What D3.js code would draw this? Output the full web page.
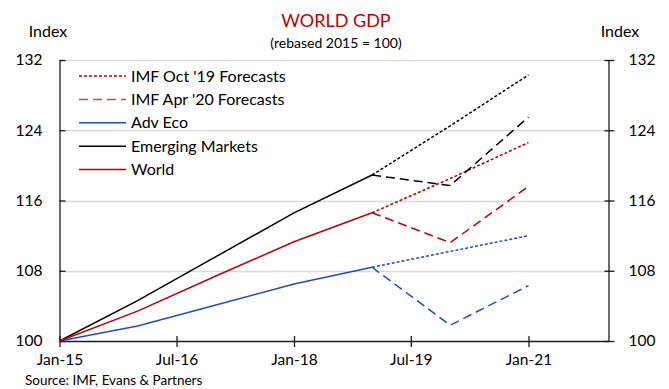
<!DOCTYPE html>
<html>
<head>
<meta charset="utf-8">
<script src="https://cdn.jsdelivr.net/npm/d3@7"></script>
<style>
  html, body { margin: 0; padding: 0; background: #fff; }
  svg { display: block; font-family: Lato, "Open Sans", sans-serif; }
</style>
</head>
<body>
<svg id="chart" width="669" height="389"></svg>
<script>
// Annual observations, rebased so that 2015 = 100
const years = [2015, 2016, 2017, 2018, 2019];
const advEco = [100, 101.7, 104.1, 106.5, 108.4];
const emerging = [100, 104.6, 109.6, 114.6, 118.9];
const world = [100, 103.4, 107.4, 111.3, 114.6];

// Forecast paths, starting from the 2019 level
const forecastYears = [2019, 2020, 2021];
const advEcoOct19 = [108.4, 110.2, 112.0];
const emergingOct19 = [118.9, 124.5, 130.3];
const worldOct19 = [114.6, 118.5, 122.6];
const advEcoApr20 = [108.4, 101.8, 106.3];
const emergingApr20 = [118.9, 117.7, 125.5];
const worldApr20 = [114.6, 111.2, 117.6];

const yTicks = [100, 108, 116, 124, 132];
const xTickDates = ["2015-01", "2016-07", "2018-01", "2019-07", "2021-01"];
const xTickLabels = ["Jan-15", "Jul-16", "Jan-18", "Jul-19", "Jan-21"];

const legendLabels = ["IMF Oct '19 Forecasts", "IMF Apr '20 Forecasts", "Adv Eco", "Emerging Markets", "World"];

const colors = { black: "#000000", red: "#C00000", blue: "#1F4EB4", legendApr: "#C0504D" };
const dotted = "3,2";
const dashed = "9,5";

const svg = d3.select("#chart");
const plotLeft = 59.5, plotRight = 608.5, plotTop = 60, plotBottom = 341;

const parse = d3.timeParse("%Y-%m");
const x = d3.scaleTime()
  .domain([new Date(2015, 0, 1), new Date(2022, 0, 10)])
  .range([plotLeft, plotRight]);
const y = d3.scaleLinear().domain([100, 132]).range([plotBottom, plotTop]);

// Gridlines
svg.append("g").selectAll("line")
  .data(yTicks.filter(v => v > 100))
  .join("line")
  .attr("x1", plotLeft).attr("x2", plotRight)
  .attr("y1", d => Math.round(y(d)) + 0.5).attr("y2", d => Math.round(y(d)) + 0.5)
  .attr("stroke", "#d9d9d9").attr("stroke-width", 1.5);

// Axes
const axisColor = "#1a1a1a";
function styleAxis(g) {
  g.select(".domain").attr("stroke", axisColor).attr("stroke-width", 1.3);
  g.selectAll(".tick line").attr("stroke", axisColor).attr("stroke-width", 1.3);
  g.selectAll(".tick text").attr("fill", "#000").attr("font-size", "15.5px")
    .attr("font-family", "Lato, 'Open Sans', sans-serif");
}

const yLeft = svg.append("g").attr("transform", `translate(${plotLeft},0)`)
  .call(d3.axisLeft(y).tickValues(yTicks).tickSizeInner(6).tickSizeOuter(0).tickPadding(11));
yLeft.selectAll(".tick line").attr("x2", 6);
styleAxis(yLeft);

const yRight = svg.append("g").attr("transform", `translate(${plotRight},0)`)
  .call(d3.axisRight(y).tickValues(yTicks).tickSizeInner(6).tickSizeOuter(0).tickPadding(14));
yRight.selectAll(".tick line").attr("x2", 6).attr("x1", -4);
styleAxis(yRight);

const xAxis = svg.append("g").attr("transform", `translate(0,${plotBottom})`)
  .call(d3.axisBottom(x)
    .tickValues(xTickDates.map(parse))
    .tickFormat((d, i) => xTickLabels[i])
    .tickSizeInner(6).tickSizeOuter(0).tickPadding(7));
xAxis.selectAll(".tick line").attr("y1", -5);
styleAxis(xAxis);

// Series lines
const line = d3.line().x(d => x(new Date(d[0], 0, 1))).y(d => y(d[1]));
const zip = (a, b) => a.map((v, i) => [v, b[i]]);

const series = [
  { yrs: forecastYears, vals: advEcoOct19, color: colors.blue, dash: dotted },
  { yrs: forecastYears, vals: emergingOct19, color: colors.black, dash: dotted },
  { yrs: forecastYears, vals: worldOct19, color: colors.red, dash: dotted },
  { yrs: forecastYears, vals: advEcoApr20, color: colors.blue, dash: dashed },
  { yrs: forecastYears, vals: emergingApr20, color: colors.black, dash: dashed },
  { yrs: forecastYears, vals: worldApr20, color: colors.red, dash: dashed },
  { yrs: years, vals: advEco, color: colors.blue, dash: null },
  { yrs: years, vals: emerging, color: colors.black, dash: null },
  { yrs: years, vals: world, color: colors.red, dash: null }
];

svg.append("g").selectAll("path")
  .data(series)
  .join("path")
  .attr("d", d => line(zip(d.yrs, d.vals)))
  .attr("fill", "none")
  .attr("stroke", d => d.color)
  .attr("stroke-width", 1.5)
  .attr("stroke-dasharray", d => d.dash);

// Legend
const legendItems = [
  { color: colors.red, dash: dotted },
  { color: colors.legendApr, dash: dashed },
  { color: colors.blue, dash: null },
  { color: colors.black, dash: null },
  { color: colors.red, dash: null }
];
const legend = svg.append("g").attr("transform", "translate(79,76)");
const rows = legend.selectAll("g").data(legendItems).join("g")
  .attr("transform", (d, i) => `translate(0,${i * 23.4})`);
rows.append("line")
  .attr("x1", 0).attr("x2", 47).attr("y1", 0).attr("y2", 0)
  .attr("stroke", d => d.color).attr("stroke-width", 1.5)
  .attr("stroke-dasharray", d => d.dash);
rows.append("text")
  .attr("x", 52).attr("y", 0).attr("dy", "0.35em")
  .attr("font-size", "16px").attr("fill", "#000")
  .text((d, i) => legendLabels[i]);

// Titles and labels
svg.append("text").attr("x", 336).attr("y", 27).attr("text-anchor", "middle")
  .attr("font-size", "18px").attr("fill", "#C00000").text("WORLD GDP");
svg.append("text").attr("x", 336).attr("y", 48).attr("text-anchor", "middle")
  .attr("font-size", "14px").attr("fill", "#000").text("(rebased 2015 = 100)");
svg.append("text").attr("x", 48).attr("y", 37).attr("text-anchor", "middle")
  .attr("font-size", "16px").attr("fill", "#000").text("Index");
svg.append("text").attr("x", 620).attr("y", 37).attr("text-anchor", "middle")
  .attr("font-size", "16px").attr("fill", "#000").text("Index");
svg.append("text").attr("x", 25).attr("y", 385)
  .attr("font-size", "13.5px").attr("fill", "#000").text("Source: IMF, Evans & Partners");
</script>
</body>
</html>
